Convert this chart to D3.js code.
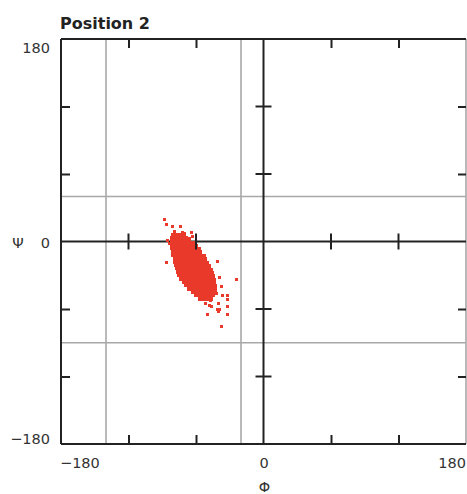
<!DOCTYPE html>
<html>
<head>
<meta charset="utf-8">
<script src="https://cdn.jsdelivr.net/npm/d3@7"></script>
<style>
  body { margin: 0; background: #fff; }
  text { font-family: "DejaVu Sans", sans-serif; }
</style>
</head>
<body>
<svg id="chart" width="467" height="494"></svg>
<script>
// Axis range and tick values (degrees)
const extent = [-180, 180];
const labelTicks = [-180, 0, 180];
const minorTicks = [-120, -60, 60, 120];

// Gray reference lines
const phiLines = [-140, -20];
const psiLines = [40, -90];

// Dense core of the cluster [phi, psi]
const corePoints = [
  [-80, 6], [-77, 6], [-74, 6], [-71, 7],
  [-81, 3], [-78, 3], [-75, 3], [-72, 3], [-69, 3], [-66, 2],
  [-81, 0], [-78, 0], [-75, 0], [-72, 0], [-69, 0], [-66, 0], [-63, -1],
  [-81, -3], [-78, -3], [-75, -3], [-72, -3], [-69, -3], [-66, -3], [-63, -3], [-60, -4],
  [-81, -6], [-78, -6], [-75, -6], [-72, -6], [-69, -6], [-66, -6], [-63, -6], [-60, -6], [-57, -7],
  [-80, -9], [-77, -9], [-74, -9], [-71, -9], [-68, -9], [-65, -9], [-62, -9], [-59, -9], [-56, -9],
  [-80, -12], [-77, -12], [-74, -12], [-71, -12], [-68, -12], [-65, -12], [-62, -12], [-59, -12], [-56, -12], [-53, -13],
  [-79, -15], [-76, -15], [-73, -15], [-70, -15], [-67, -15], [-64, -15], [-61, -15], [-58, -15], [-55, -15], [-52, -16],
  [-79, -18], [-76, -18], [-73, -18], [-70, -18], [-67, -18], [-64, -18], [-61, -18], [-58, -18], [-55, -18], [-52, -18], [-50, -19],
  [-78, -21], [-75, -21], [-72, -21], [-69, -21], [-66, -21], [-63, -21], [-60, -21], [-57, -21], [-54, -21], [-51, -21], [-48, -22],
  [-77, -24], [-74, -24], [-71, -24], [-68, -24], [-65, -24], [-62, -24], [-59, -24], [-56, -24], [-53, -24], [-50, -24], [-47, -25],
  [-76, -27], [-73, -27], [-70, -27], [-67, -27], [-64, -27], [-61, -27], [-58, -27], [-55, -27], [-52, -27], [-49, -27], [-46, -28],
  [-75, -30], [-72, -30], [-69, -30], [-66, -30], [-63, -30], [-60, -30], [-57, -30], [-54, -30], [-51, -30], [-48, -30], [-45, -31],
  [-73, -33], [-70, -33], [-67, -33], [-64, -33], [-61, -33], [-58, -33], [-55, -33], [-52, -33], [-49, -33], [-46, -33], [-44, -34],
  [-71, -36], [-68, -36], [-65, -36], [-62, -36], [-59, -36], [-56, -36], [-53, -36], [-50, -36], [-47, -36], [-44, -36],
  [-69, -39], [-66, -39], [-63, -39], [-60, -39], [-57, -39], [-54, -39], [-51, -39], [-48, -39], [-45, -39], [-43, -40],
  [-66, -42], [-63, -42], [-60, -42], [-57, -42], [-54, -42], [-51, -42], [-48, -42], [-45, -42], [-43, -43],
  [-63, -45], [-60, -45], [-57, -45], [-54, -45], [-51, -45], [-48, -45], [-45, -45],
  [-60, -48], [-57, -48], [-54, -48], [-51, -48], [-48, -48], [-45, -48],
  [-56, -51], [-53, -51], [-50, -51], [-47, -51]
];

// Scattered points around the core [phi, psi]
const outlierPoints = [
  [-88, 19], [-86, 15], [-81, 13], [-74, 13], [-79, 9], [-72, 8], [-64, 8], [-63, 4],
  [-85, 1], [-83, -2], [-86, -19], [-41, -18], [-39, -32], [-24, -34], [-37, -40],
  [-32, -48], [-36, -48], [-32, -52], [-40, -55], [-32, -58], [-46, -58], [-48, -57],
  [-41, -61], [-39, -61], [-40, -62], [-32, -65], [-50, -65], [-37, -76], [-42, -46],
  [-47, -53], [-51, -55]
];

const pointColor = "#e8392b";

const svg = d3.select("#chart");

const x = d3.scaleLinear().domain(extent).range([61, 466]);
const y = d3.scaleLinear().domain(extent).range([444, 39]);

// Gray reference lines
svg.selectAll(".vgray").data(phiLines).enter().append("line")
  .attr("x1", d => x(d)).attr("x2", d => x(d))
  .attr("y1", y(180)).attr("y2", y(-180))
  .attr("stroke", "#a8a8a8").attr("stroke-width", 1.6);
svg.selectAll(".hgray").data(psiLines).enter().append("line")
  .attr("x1", x(-180)).attr("x2", x(180))
  .attr("y1", d => y(d)).attr("y2", d => y(d))
  .attr("stroke", "#a8a8a8").attr("stroke-width", 1.6);

// Right edge is gray
svg.append("line")
  .attr("x1", x(180)).attr("x2", x(180))
  .attr("y1", y(180)).attr("y2", y(-180))
  .attr("stroke", "#a8a8a8").attr("stroke-width", 1.6);

// Black frame (left, top, bottom) and centre lines
const blackLines = [
  [x(-180), y(180), x(-180), y(-180)],
  [x(-180), y(180), x(180), y(180)],
  [x(-180), y(-180), x(180), y(-180)],
  [x(0), y(180), x(0), y(-180)],
  [x(-180), y(0), x(180), y(0)]
];
svg.selectAll(".frame").data(blackLines).enter().append("line")
  .attr("x1", d => d[0]).attr("y1", d => d[1])
  .attr("x2", d => d[2]).attr("y2", d => d[3])
  .attr("stroke", "#222").attr("stroke-width", 2);

// Points
svg.append("g").attr("shape-rendering", "crispEdges")
  .selectAll("rect")
  .data(corePoints.map(d => [d, 4.2]).concat(outlierPoints.map(d => [d, 3.4])))
  .enter().append("rect")
  .attr("x", d => Math.round(x(d[0][0]) - d[1] / 2))
  .attr("y", d => Math.round(y(d[0][1]) - d[1] / 2))
  .attr("width", d => d[1]).attr("height", d => d[1])
  .attr("fill", pointColor);

// Inward ticks on the frame
function tickStyle(g) {
  g.select(".domain").remove();
  g.selectAll(".tick line").attr("stroke", "#222").attr("stroke-width", 2);
}
svg.append("g").attr("transform", `translate(0,${y(-180)})`)
  .call(d3.axisBottom(x).tickValues(minorTicks).tickFormat("").tickSize(-9))
  .call(tickStyle);
svg.append("g").attr("transform", `translate(0,${y(180)})`)
  .call(d3.axisTop(x).tickValues(minorTicks).tickFormat("").tickSize(-9))
  .call(tickStyle);
svg.append("g").attr("transform", `translate(${x(-180)},0)`)
  .call(d3.axisLeft(y).tickValues(minorTicks).tickFormat("").tickSize(-9))
  .call(tickStyle);
svg.append("g").attr("transform", `translate(${x(180)},0)`)
  .call(d3.axisRight(y).tickValues(minorTicks).tickFormat("").tickSize(-8))
  .call(tickStyle);

// Crossing ticks on the centre lines
svg.selectAll(".xc").data(minorTicks).enter().append("line")
  .attr("x1", d => x(d)).attr("x2", d => x(d))
  .attr("y1", y(0) - 8).attr("y2", y(0) + 8)
  .attr("stroke", "#222").attr("stroke-width", 2);
svg.selectAll(".yc").data(minorTicks).enter().append("line")
  .attr("x1", x(0) - 8).attr("x2", x(0) + 8)
  .attr("y1", d => y(d)).attr("y2", d => y(d))
  .attr("stroke", "#222").attr("stroke-width", 2);

// Tick labels
const fmt = d => (d < 0 ? "\u2212" + Math.abs(d) : String(d));
const bottomAnchor = { "-180": "start", "0": "middle", "180": "end" };
const bottomX = { "-180": 60, "0": 264, "180": 466 };
svg.selectAll(".xl").data(labelTicks).enter().append("text")
  .attr("x", d => bottomX[d]).attr("y", 468)
  .attr("text-anchor", d => bottomAnchor[d])
  .attr("font-size", 14.5).attr("fill", "#333")
  .text(fmt);

const leftY = { "180": 52.5, "0": 247.5, "-180": 444 };
svg.selectAll(".yl").data(labelTicks).enter().append("text")
  .attr("x", 50).attr("y", d => leftY[d])
  .attr("text-anchor", "end")
  .attr("font-size", 14.5).attr("fill", "#333")
  .text(fmt);

// Axis titles
svg.append("text").attr("x", 264.5).attr("y", 492)
  .attr("text-anchor", "middle").attr("font-size", 14.5).attr("fill", "#333")
  .text("\u03A6");
svg.append("text").attr("x", 18).attr("y", 247.5)
  .attr("text-anchor", "middle").attr("font-size", 14.5).attr("fill", "#333")
  .text("\u03A8");

// Title
svg.append("text").attr("x", 60).attr("y", 29)
  .attr("font-size", 16).attr("font-weight", "bold").attr("fill", "#222")
  .text("Position 2");
</script>
</body>
</html>
